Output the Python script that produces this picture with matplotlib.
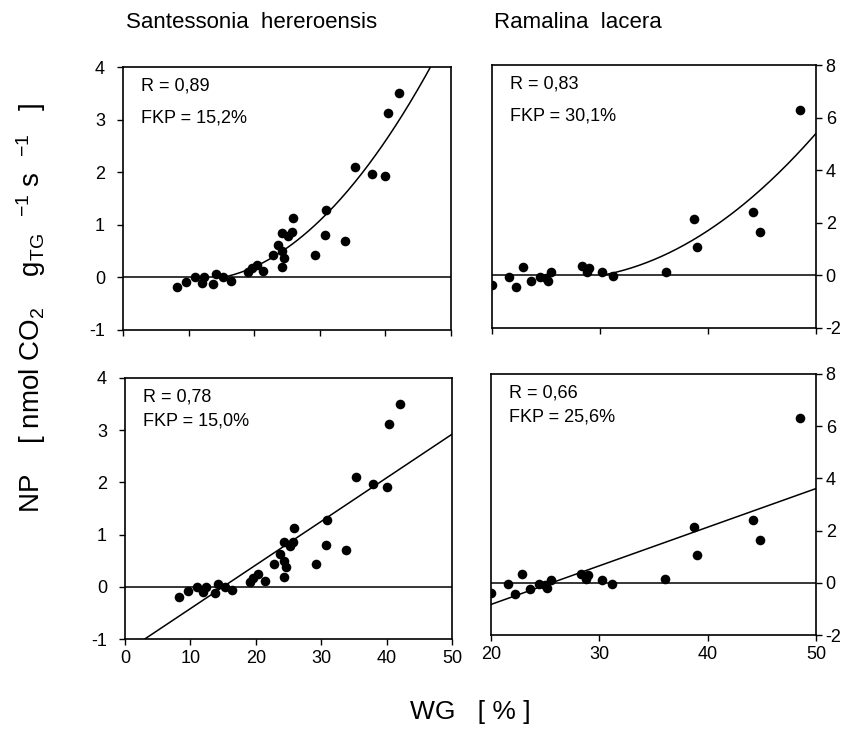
import numpy as np
import matplotlib
matplotlib.use("Agg")
import matplotlib.pyplot as plt

plt.rcParams['font.family'] = ['Liberation Sans', 'DejaVu Sans']
plt.rcParams['mathtext.fontset'] = 'custom'
plt.rcParams['mathtext.rm'] = 'Liberation Sans'
plt.rcParams['mathtext.it'] = 'Liberation Sans'
plt.rcParams['mathtext.default'] = 'regular'
plt.rcParams['axes.unicode_minus'] = False

# Santessonia hereroensis: water content WG [%] vs net photosynthesis NP
wg_sant = [8.3, 9.6, 11.0, 12.0, 12.4, 13.7, 14.2, 15.3, 16.4, 19.1, 19.6, 20.4,
           21.4, 22.8, 23.7, 24.3, 24.6, 24.3, 24.3, 25.2, 25.7, 25.9, 29.2, 30.8,
           30.9, 33.8, 35.3, 37.9, 40.0, 40.4, 42.0]
np_sant = [-0.19, -0.08, 0.0, -0.10, 0.0, -0.12, 0.06, 0.0, -0.07, 0.10, 0.17, 0.24,
           0.12, 0.43, 0.62, 0.50, 0.37, 0.19, 0.85, 0.78, 0.86, 1.12, 0.43, 0.81,
           1.28, 0.70, 2.10, 1.96, 1.92, 3.12, 3.50]

# Ramalina lacera
wg_ram = [20.0, 21.6, 22.2, 22.9, 23.6, 24.4, 25.2, 25.5, 25.0, 28.3, 28.95, 28.8,
          30.2, 31.2, 36.1, 38.7, 39.0, 44.2, 44.8, 48.5]
np_ram = [-0.38, -0.05, -0.43, 0.33, -0.22, -0.05, -0.20, 0.12, -0.10, 0.34, 0.28, 0.13,
          0.12, -0.04, 0.14, 2.15, 1.08, 2.42, 1.65, 6.30]

# fit parameters
quad_sant = (15.2, 0.0262, 0.00316)   # x0, linear, quadratic (y = a*d + b*d^2, d = x - x0)
quad_ram = (30.1, 0.0739, 0.00992)
lin_sant = (15.0, 0.0835)              # x0, slope
lin_ram = (25.6, 0.148)

stats = [("R = 0,89", "FKP = 15,2%"), ("R = 0,83", "FKP = 30,1%"),
         ("R = 0,78", "FKP = 15,0%"), ("R = 0,66", "FKP = 25,6%")]

W, H = 850, 729
fig = plt.figure(figsize=(W / 100, H / 100), dpi=100)


def box(x0, y0, x1, y1):
    return [x0 / W, 1 - y1 / H, (x1 - x0) / W, (y1 - y0) / H]


ax_tl = fig.add_axes(box(123, 67, 451, 330))
ax_tr = fig.add_axes(box(492, 65, 816, 328))
ax_bl = fig.add_axes(box(125, 378, 452, 639))
ax_br = fig.add_axes(box(491, 374, 816, 635))

dot = dict(s=48, color='black', zorder=3, linewidths=0)
lw = 1.1

for ax, xs, ys in [(ax_tl, wg_sant, np_sant), (ax_bl, wg_sant, np_sant),
                   (ax_tr, wg_ram, np_ram), (ax_br, wg_ram, np_ram)]:
    ax.scatter(xs, ys, **dot)
    ax.axhline(0, color='black', lw=lw, zorder=2)
    for sp in ax.spines.values():
        sp.set_linewidth(1.2)
    ax.tick_params(direction='out', length=4, width=1, labelsize=13)
    ax.tick_params(axis='x', pad=4)

# left panels
for ax in (ax_tl, ax_bl):
    ax.set_xlim(0, 50)
    ax.set_ylim(-1, 4)
    ax.set_xticks([0, 10, 20, 30, 40, 50])
    ax.set_yticks([-1, 0, 1, 2, 3, 4])
    ax.tick_params(axis='y', pad=9)

# right panels
for ax in (ax_tr, ax_br):
    ax.set_xlim(20, 50)
    ax.set_ylim(-2, 8)
    ax.set_xticks([20, 30, 40, 50])
    ax.set_yticks([-2, 0, 2, 4, 6, 8])
    ax.yaxis.tick_right()
    ax.tick_params(axis='y', pad=3)

ax_tl.tick_params(labelbottom=False)
ax_tr.tick_params(labelbottom=False)

# curves
x0, a, b = quad_sant
xc = np.linspace(x0, 50, 200)
ax_tl.plot(xc, a * (xc - x0) + b * (xc - x0) ** 2, color='black', lw=lw)
x0, a, b = quad_ram
xc = np.linspace(x0, 50, 200)
ax_tr.plot(xc, a * (xc - x0) + b * (xc - x0) ** 2, color='black', lw=lw)
x0, k = lin_sant
xl = np.linspace(0, 50, 50)
ax_bl.plot(xl, k * (xl - x0), color='black', lw=lw)
x0, k = lin_ram
xl = np.linspace(20, 50, 50)
ax_br.plot(xl, k * (xl - x0), color='black', lw=lw)

for ax, (r, fkp) in zip([ax_tl, ax_tr, ax_bl, ax_br], stats):
    ax.text(0.055, 0.96, r, transform=ax.transAxes, fontsize=13, va='top')
    gap = 0.122 if ax in (ax_tl, ax_tr) else 0.092
    ax.text(0.055, 0.96 - gap, fkp, transform=ax.transAxes, fontsize=13, va='top')

fig.text(126 / W, 1 - 22 / H, "Santessonia  hereroensis", fontsize=16, va='center')
fig.text(494 / W, 1 - 22 / H, "Ramalina  lacera", fontsize=16, va='center')

fig.text(31 / W, 1 - 308 / H,
         r"NP    [ nmol CO$_2$    g$_{TG}$  $^{-1}$ s  $^{-1}$   ]",
         rotation=90, fontsize=20, ha='center', va='center')
fig.text(470 / W, 1 - 712 / H, "WG   [ % ]", fontsize=19, ha='center', va='center')

fig.savefig("out.png", dpi=100)
